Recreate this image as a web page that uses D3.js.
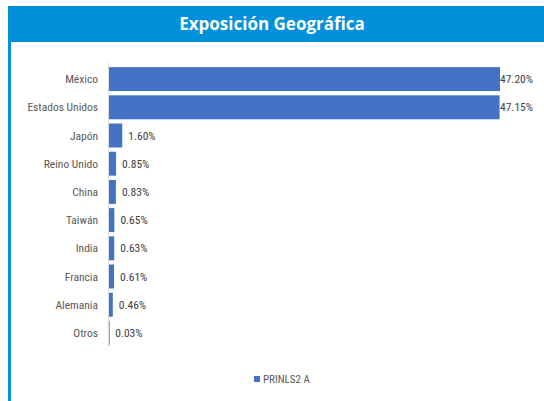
<!DOCTYPE html>
<html>
<head>
<meta charset="utf-8">
<script src="https://cdn.jsdelivr.net/npm/d3@7"></script>
<style>
  body { margin: 0; background: #fff; }
  text { font-family: "Liberation Sans Narrow", "Arial Narrow", "Roboto Condensed", sans-serif; }
</style>
</head>
<body>
<div id="chart"></div>
<script>
const width = 544;
const height = 401;

// data
const countries = ["México", "Estados Unidos", "Japón", "Reino Unido", "China", "Taiwán", "India", "Francia", "Alemania", "Otros"];
const weights = [47.20, 47.15, 1.60, 0.85, 0.83, 0.65, 0.63, 0.61, 0.46, 0.03];
const seriesName = "PRINLS2 A";
const title = "Exposición Geográfica";

const svg = d3.select("#chart")
  .append("svg")
  .attr("width", width)
  .attr("height", height);

// title band + left border
svg.append("rect")
  .attr("x", 8).attr("y", 6)
  .attr("width", width - 8).attr("height", 36)
  .attr("fill", "#0091da");

svg.append("rect")
  .attr("x", 8).attr("y", 42)
  .attr("width", 3).attr("height", height - 42)
  .attr("fill", "#0091da");

svg.append("text")
  .attr("x", 272).attr("y", 30)
  .attr("text-anchor", "middle")
  .attr("fill", "#fff")
  .style("font-family", "'Open Sans', 'Noto Sans', sans-serif")
  .style("font-weight", "bold")
  .style("font-size", "17px")
  .text(title);

// scales
const x = d3.scaleLinear()
  .domain([0, 47.2])
  .range([109, 500]);

const y = d3.scaleBand()
  .domain(countries)
  .range([65, 347])
  .paddingInner(0.15)
  .paddingOuter(0.075);

// category axis line
svg.append("line")
  .attr("x1", 108.5).attr("x2", 108.5)
  .attr("y1", 63).attr("y2", 347)
  .attr("stroke", "#d9d9d9");

const rows = countries.map((c, i) => ({ name: c, value: weights[i] }));

svg.selectAll(".bar")
  .data(rows)
  .join("rect")
    .attr("class", "bar")
    .attr("x", x(0))
    .attr("y", d => y(d.name))
    .attr("width", d => Math.max(0.6, x(d.value) - x(0)))
    .attr("height", y.bandwidth())
    .attr("fill", "#4472c4");

svg.selectAll(".cat")
  .data(rows)
  .join("text")
    .attr("class", "cat")
    .attr("x", 98)
    .attr("y", d => y(d.name) + y.bandwidth() / 2)
    .attr("dy", "0.35em")
    .attr("text-anchor", "end")
    .attr("fill", "#595959")
    .style("font-size", "11.5px")
    .text(d => d.name);

svg.selectAll(".val")
  .data(rows)
  .join("text")
    .attr("class", "val")
    .attr("x", d => Math.min(x(d.value) + 6, 500))
    .attr("y", d => y(d.name) + y.bandwidth() / 2)
    .attr("dy", "0.35em")
    .attr("fill", "#404040")
    .style("font-size", "11.5px")
    .text(d => d.value.toFixed(2) + "%");

// legend
const legend = svg.append("g").attr("transform", "translate(254, 376)");
legend.append("rect")
  .attr("width", 6).attr("height", 6)
  .attr("fill", "#4472c4");
legend.append("text")
  .attr("x", 9).attr("y", 3)
  .attr("dy", "0.35em")
  .attr("fill", "#595959")
  .style("font-size", "11px")
  .text(seriesName);
</script>
</body>
</html>
